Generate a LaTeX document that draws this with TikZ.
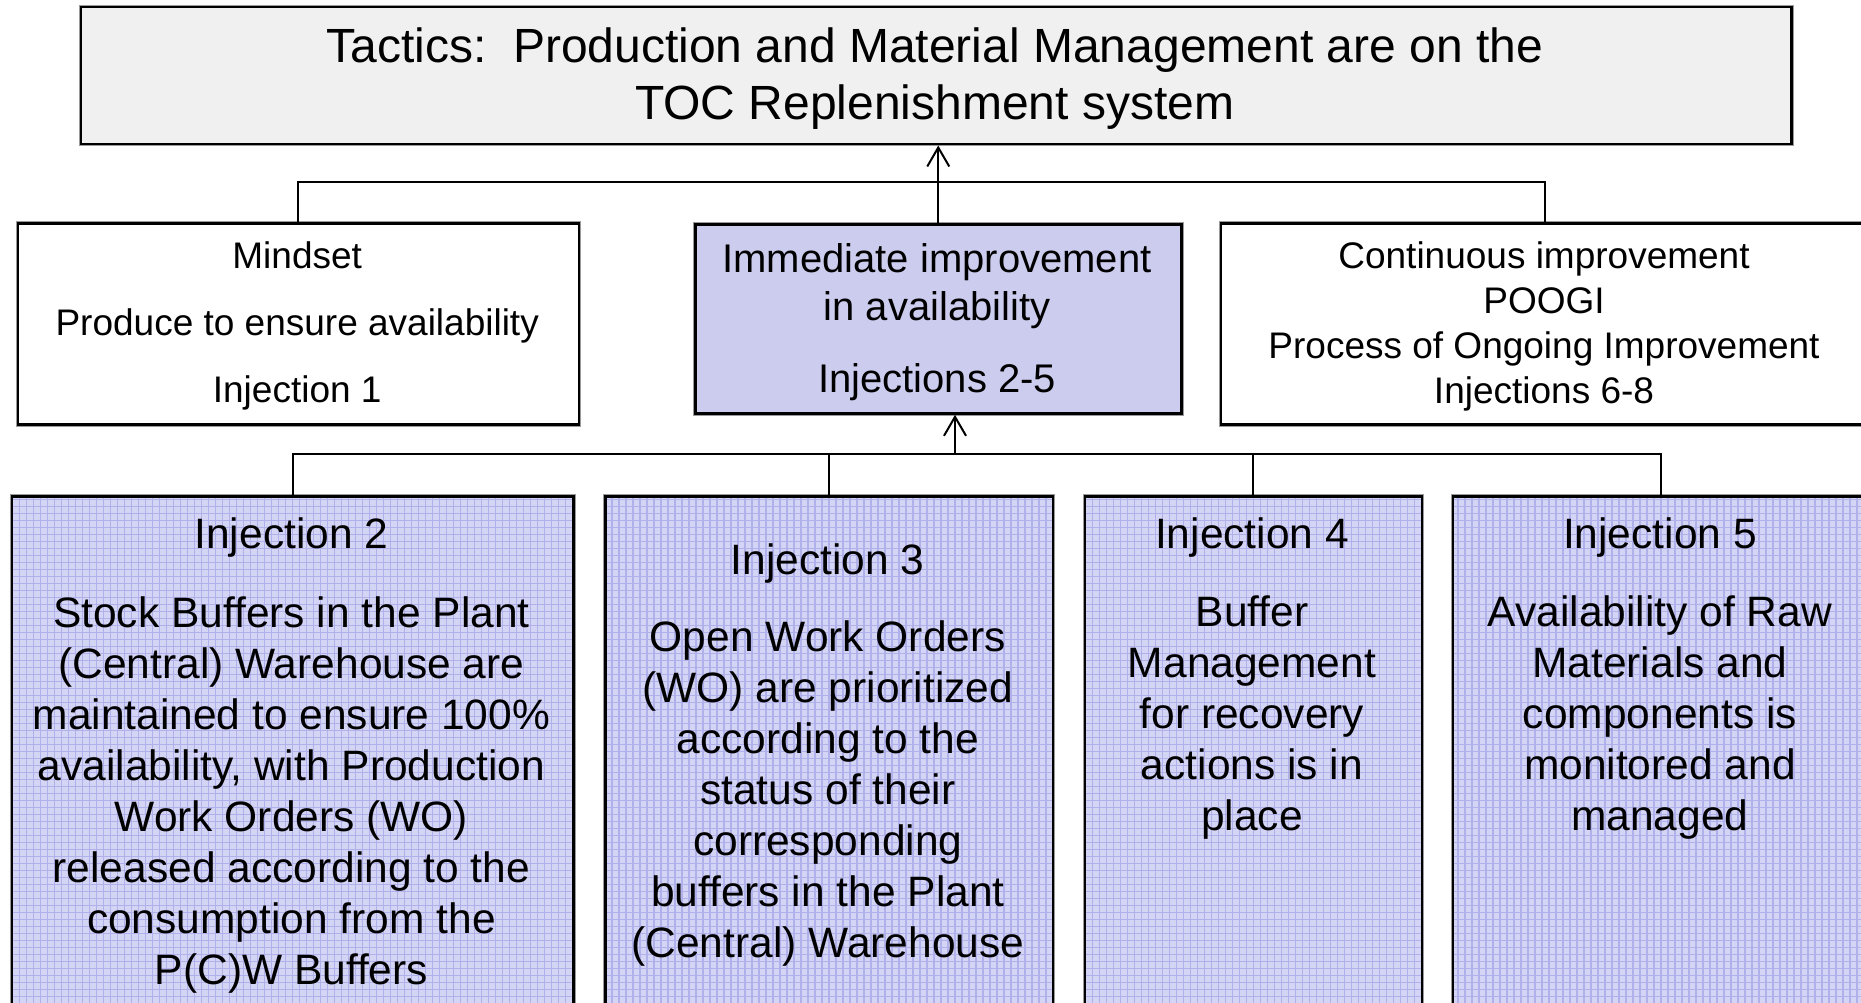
\documentclass[tikz,border=0pt]{standalone}
\usepackage{fontspec}
\setmainfont{Liberation Sans}
\usetikzlibrary{arrows.meta,calc}
\definecolor{topfill}{HTML}{F0F0F0}
\definecolor{immfill}{HTML}{CCCCEE}
\definecolor{injfill}{HTML}{D4D4F5}
\definecolor{injgrid}{HTML}{B0B0EA}
\definecolor{edgehalo}{HTML}{9A9A9A}

\begin{document}
\begin{tikzpicture}[x=1pt,y=-1pt,
  box/.style={draw=black,line width=2.5pt,inner sep=0pt,anchor=north west,
    preaction={draw=edgehalo,line width=4.5pt}},
  injbox/.style={box,fill=injfill,
    path picture={\draw[injgrid,line width=1.3pt]
      (path picture bounding box.south west) grid[step=7pt]
      (path picture bounding box.north east);}},
  wire/.style={draw=black,line width=2pt},
  tip/.style={-{Straight Barb[length=19pt,width=22pt]}},
  txt/.style={anchor=north,align=center,inner sep=0pt},
  toptext/.style={txt,font=\fontsize{48}{57}\selectfont},
  midtext/.style={txt,font=\fontsize{37}{45}\selectfont},
  immtext/.style={txt,font=\fontsize{40}{48}\selectfont},
  injtext/.style={txt,font=\fontsize{42.5}{51}\selectfont},
]
\useasboundingbox (0,0) rectangle (1861,1003);
\clip (0,0) rectangle (1861,1003);
\fill[white] (0,0) rectangle (1861,1003);

% boxes
\node[box,fill=topfill,minimum width=1710.5pt,minimum height=137.3pt] (top) at (79.5,5.7) {};
\node[box,fill=white,minimum width=561.1pt,minimum height=201pt] (mind) at (16.6,222.3) {};
\node[box,fill=immfill,minimum width=486pt,minimum height=189pt] (imm) at (694,223.3) {};
\node[box,fill=white,minimum width=649pt,minimum height=201pt] (cont) at (1219.5,222.3) {};
\node[injbox,minimum width=561.3pt,minimum height=525pt] (inj2) at (10.7,495) {};
\node[injbox,minimum width=447.6pt,minimum height=525pt] (inj3) at (604,495) {};
\node[injbox,minimum width=337.1pt,minimum height=525pt] (inj4) at (1083.6,495) {};
\node[injbox,minimum width=416.3pt,minimum height=525pt] (inj5) at (1451.7,495) {};

% texts
\node[toptext] (toptxt) at (934.75,22.1)
  {\strut Tactics:\ \ Production and Material Management are on the\\TOC Replenishment system};
\node[midtext] (mindtxt) at (297.2,236.8)
  {\strut Mindset\\[22pt]Produce to ensure availability\\[22pt]Injection 1};
\node[immtext] (immtxt) at (937,239.1)
  {\strut Immediate improvement\\in availability\\[24pt]Injections 2-5};
\node[midtext] (conttxt) at (1544,236.8)
  {\strut Continuous improvement\\POOGI\\Process of Ongoing Improvement\\Injections 6-8};
\node[injtext] (inj2txt) at (291.4,512.3)
  {\strut Injection 2\\[28pt]Stock Buffers in the Plant\\(Central) Warehouse are\\maintained to ensure 100\%\\availability, with Production\\Work Orders (WO)\\released according to the\\consumption from the\\P(C)W Buffers};
\node[injtext] (inj3txt) at (827.8,538.3)
  {\strut Injection 3\\[26pt]Open Work Orders\\(WO) are prioritized\\according to the\\status of their\\corresponding\\buffers in the Plant\\(Central) Warehouse};
\node[injtext] (inj4txt) at (1252,512.3)
  {\strut Injection 4\\[27pt]Buffer\\Management\\for recovery\\actions is in\\place};
\node[injtext] (inj5txt) at (1659.9,512.3)
  {\strut Injection 5\\[27pt]Availability of Raw\\Materials and\\components is\\monitored and\\managed};

% connectors
\coordinate (busA) at (0,182.3);
\coordinate (busB) at (955,454);
\draw[wire] (mind.north) -- (mind.north |- busA) -| (cont.north);
\draw[wire,tip] (imm.north) -- (imm.north |- top.south);
\draw[wire] (inj2.north) -- (inj2.north |- busB) -| (inj5.north);
\draw[wire] (inj3.north) -- (inj3.north |- busB);
\draw[wire] (inj4.north) -- (inj4.north |- busB);
\draw[wire,tip] (busB) -- (busB |- imm.south);
\end{tikzpicture}
\end{document}
